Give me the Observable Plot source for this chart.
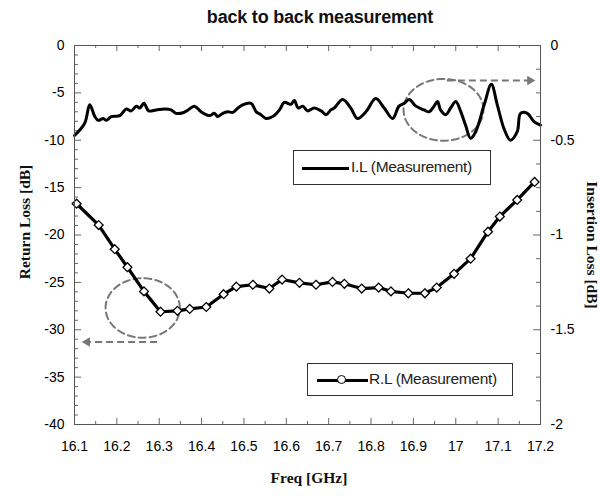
<!DOCTYPE html>
<html>
<head>
<meta charset="utf-8">
<script src="https://cdn.jsdelivr.net/npm/d3@7"></script>
<script src="https://cdn.jsdelivr.net/npm/@observablehq/plot@0.6"></script>
<style>
  body { margin: 0; background: #fff; }
  #wrap { position: relative; width: 600px; height: 496px; font-family: "Liberation Sans", Arial, sans-serif; }
  #title { height: 30px; width: 560px; padding-left: 40px; text-align: center; font-weight: bold; font-size: 18px; line-height: 34px; color: #111; letter-spacing: -0.2px; }
  .legend { position: absolute; border: 1.5px solid #333; background: #fff; box-sizing: border-box; font-size: 15.5px; color: #222; }
  .legend .ln { position: absolute; height: 3px; background: #000; }
  .legend .txt { position: absolute; white-space: nowrap; letter-spacing: -0.3px; }
  .legend .mk { position: absolute; width: 7px; height: 7px; border: 1.5px solid #000; border-radius: 50%; background: #fff; }
  .axlab { position: absolute; font-family: "Liberation Serif", "Times New Roman", serif; font-weight: bold; font-size: 15.5px; color: #111; white-space: nowrap; }
</style>
</head>
<body>
<div id="wrap">
  <div id="title">back to back measurement</div>
  <div id="chart"></div>
</div>
<script>
// ---- data ----
const xTickLabels = [16.1, 16.2, 16.3, 16.4, 16.5, 16.6, 16.7, 16.8, 16.9, 17, 17.1, 17.2];
const rlTickLabels = [0, -5, -10, -15, -20, -25, -30, -35, -40];
const ilTickLabels = [0, -0.5, -1, -1.5, -2];

// Return loss (left axis, dB), markers
const rlFreq = [16.105, 16.157, 16.195, 16.225, 16.264, 16.303, 16.343, 16.372, 16.411, 16.452,
                16.482, 16.521, 16.560, 16.590, 16.631, 16.670, 16.709, 16.737, 16.778, 16.818,
                16.847, 16.888, 16.927, 16.955, 16.996, 17.035, 17.076, 17.104, 17.145, 17.186];
const rlValue = [-16.7, -18.95, -21.5, -23.4, -25.95, -28.1, -28.0, -27.8, -27.6, -26.25,
                 -25.45, -25.25, -25.65, -24.7, -25.05, -25.25, -24.95, -25.15, -25.65, -25.55,
                 -25.95, -26.15, -26.15, -25.55, -24.1, -22.5, -19.65, -18.05, -16.3, -14.4];

// Insertion loss (right axis, dB)
const ilFreq = [16.100, 16.124, 16.136, 16.148, 16.156, 16.168, 16.175, 16.187, 16.207, 16.222,
                16.234, 16.246, 16.254, 16.264, 16.275, 16.293, 16.313, 16.328, 16.340, 16.356,
                16.368, 16.383, 16.399, 16.419, 16.430, 16.438, 16.450, 16.462, 16.474, 16.486,
                16.497, 16.517, 16.529, 16.540, 16.552, 16.568, 16.584, 16.595, 16.611, 16.619,
                16.628, 16.639, 16.650, 16.666, 16.682, 16.694, 16.705, 16.713, 16.733, 16.752,
                16.768, 16.788, 16.811, 16.831, 16.851, 16.866, 16.878, 16.890, 16.906, 16.925,
                16.937, 16.949, 16.957, 16.964, 16.976, 16.988, 17.000, 17.012, 17.023, 17.035,
                17.047, 17.067, 17.084, 17.098, 17.114, 17.129, 17.145, 17.153, 17.169, 17.184, 17.200];
const ilValue = [-0.475, -0.410, -0.313, -0.375, -0.395, -0.385, -0.395, -0.375, -0.370, -0.335,
                 -0.345, -0.320, -0.330, -0.305, -0.345, -0.340, -0.335, -0.340, -0.358, -0.355,
                 -0.340, -0.320, -0.350, -0.370, -0.358, -0.375, -0.358, -0.350, -0.353, -0.330,
                 -0.313, -0.305, -0.350, -0.365, -0.385, -0.375, -0.340, -0.300, -0.310, -0.290,
                 -0.330, -0.320, -0.345, -0.330, -0.345, -0.365, -0.340, -0.330, -0.285, -0.330,
                 -0.385, -0.350, -0.280, -0.330, -0.385, -0.320, -0.305, -0.285, -0.320, -0.340,
                 -0.350, -0.320, -0.295, -0.340, -0.365, -0.330, -0.295, -0.350, -0.420, -0.490,
                 -0.455, -0.313, -0.205, -0.313, -0.440, -0.500, -0.455, -0.358, -0.358, -0.400, -0.420];

// annotations (ellipse: centre freq, centre RL dB, radius GHz, radius dB)
const ellipseRL = {cf: 16.261, cv: -27.7, rf: 0.0877, rv: 3.14};
const ellipseIL = {cf: 16.971, cv: -6.79, rf: 0.0943, rv: 3.26};
const arrowRL = {f1: 16.295, f2: 16.130, v: -31.3};   // points left
const arrowIL = {f1: 16.979, f2: 17.175, v: -0.185};  // points right (IL dB)

// ---- build ----
const ilScale = 20; // right axis (-2..0) onto left axis (-40..0)
const rl = rlFreq.map((f, i) => ({f, v: rlValue[i]}));
const il = ilFreq.map((f, i) => ({f, v: ilValue[i] * ilScale}));
const ellipsePts = (e) => d3.range(0, 361, 4).map(a => ({
  f: e.cf + e.rf * Math.cos(a * Math.PI / 180),
  v: e.cv + e.rv * Math.sin(a * Math.PI / 180)
}));
const arrows = [
  {f1: arrowRL.f1, f2: arrowRL.f2, v: arrowRL.v, rot: -90},
  {f1: arrowIL.f1, f2: arrowIL.f2, v: arrowIL.v * ilScale, rot: 90}
];

const W = 600, H = 466;
const mT = 15, mB = 72, mL = 74, mR = 60;
const pw = W - mL - mR, ph = H - mT - mB;

const xMinor = d3.range(16.15, 17.2, 0.1);
const yMinor = d3.range(0, -41, -1).filter(v => v % 5 !== 0);
const rMinor = d3.range(0, -2.001, -0.125).filter(v => Math.abs(v * 2 - Math.round(v * 2)) > 1e-6).map(v => v * ilScale);

const tickStroke = "#666";
const dash = "#777";

const chart = Plot.plot({
  width: W, height: H,
  marginTop: mT, marginBottom: mB, marginLeft: mL, marginRight: mR,
  x: {domain: [16.1, 17.2]},
  y: {domain: [-40, 0]},
  style: {fontFamily: '"Liberation Sans", Arial, sans-serif', fontSize: "14px", color: "#000", background: "#fff", overflow: "visible"},
  marks: [
    // ticks (inward)
    Plot.ruleX(xTickLabels, {x: d => d, insetTop: ph - 6, stroke: tickStroke}),
    Plot.ruleX(xTickLabels, {x: d => d, insetBottom: ph - 6, stroke: tickStroke}),
    Plot.ruleX(xMinor, {x: d => d, insetTop: ph - 3, stroke: tickStroke}),
    Plot.ruleX(xMinor, {x: d => d, insetBottom: ph - 3, stroke: tickStroke}),
    Plot.ruleY(rlTickLabels, {y: d => d, insetRight: pw - 7, stroke: tickStroke}),
    Plot.ruleY(yMinor, {y: d => d, insetRight: pw - 4, stroke: tickStroke}),
    Plot.ruleY(ilTickLabels, {y: d => d * ilScale, insetLeft: pw - 7, stroke: tickStroke}),
    Plot.ruleY(rMinor, {y: d => d, insetLeft: pw - 4, stroke: tickStroke}),
    // tick labels
    Plot.axisX({ticks: xTickLabels, tickSize: 0, tickPadding: 17, tickFormat: d => String(d), label: null}),
    Plot.axisY({ticks: rlTickLabels, anchor: "left", tickSize: 0, tickPadding: 10, tickFormat: d => String(d), label: null}),
    Plot.axisY({ticks: ilTickLabels.map(d => d * ilScale), anchor: "right", tickSize: 0, tickPadding: 10,
                tickFormat: d => String(d / ilScale), label: null}),
    // annotations
    Plot.line(ellipsePts(ellipseRL), {x: "f", y: "v", stroke: dash, strokeWidth: 2, strokeDasharray: "7,4"}),
    Plot.line(ellipsePts(ellipseIL), {x: "f", y: "v", stroke: dash, strokeWidth: 2, strokeDasharray: "7,4"}),
    Plot.link(arrows, {x1: "f1", x2: "f2", y1: "v", y2: "v", stroke: dash, strokeWidth: 2, strokeDasharray: "7,4"}),
    Plot.dot(arrows, {x: "f2", y: "v", symbol: "triangle", rotate: "rot", r: 3.5, fill: dash, stroke: "none"}),
    // data
    Plot.line(il, {x: "f", y: "v", stroke: "#000", strokeWidth: 3, curve: "catmull-rom"}),
    Plot.line(rl, {x: "f", y: "v", stroke: "#000", strokeWidth: 3.2}),
    Plot.dot(rl, {x: "f", y: "v", symbol: "diamond2", r: 4, fill: "#fff", stroke: "#000", strokeWidth: 1.3}),
    Plot.frame({stroke: "#555", strokeWidth: 1})
  ]
});
document.getElementById("chart").appendChild(chart);

// legends and axis titles
const wrap = document.getElementById("wrap");
function add(html) { wrap.insertAdjacentHTML("beforeend", html); }
add(`<div class="legend" style="left:293px;top:150px;width:198px;height:35px;">
  <div class="ln" style="left:8px;width:47px;top:16px;"></div>
  <div class="txt" style="left:57px;top:7px;">I.L (Measurement)</div></div>`);
add(`<div class="legend" style="left:307px;top:363px;width:206px;height:33px;">
  <div class="ln" style="left:9px;width:51px;top:15px;"></div>
  <div class="mk" style="left:29px;top:11px;"></div>
  <div class="txt" style="left:61px;top:6px;">R.L (Measurement)</div></div>`);
add(`<div class="axlab" style="left:25px;top:222px;transform:translate(-50%,-50%) rotate(-90deg);">Return Loss [dB]</div>`);
add(`<div class="axlab" style="left:592px;top:245px;transform:translate(-50%,-50%) rotate(90deg);">Insertion Loss [dB]</div>`);
add(`<div class="axlab" style="left:309px;top:478px;transform:translate(-50%,-50%);">Freq [GHz]</div>`);
</script>
</body>
</html>
